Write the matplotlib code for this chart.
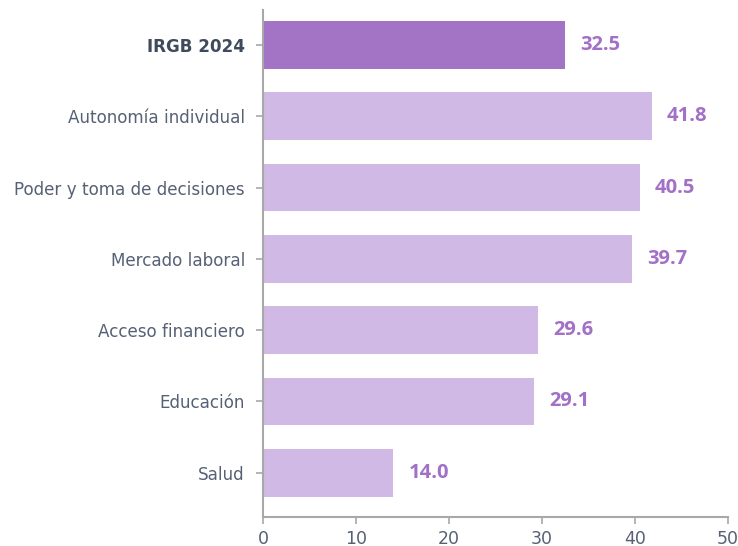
import numpy as np
import matplotlib.pyplot as plt

# datos del gráfico
categorias = ['IRGB 2024', 'Autonomía individual', 'Poder y toma de decisiones',
              'Mercado laboral', 'Acceso financiero', 'Educación', 'Salud']
valores = [32.5, 41.8, 40.5, 39.7, 29.6, 29.1, 14.0]
xticks = [0, 10, 20, 30, 40, 50]

color_total = '#a374c6'
color_resto = '#d0b9e4'
color_texto = '#566175'
color_valor = '#a270c6'
color_eje = '#a8a8a8'

plt.rcParams['font.family'] = ['DejaVu Sans']

fig = plt.figure(figsize=(7.38, 5.46), dpi=100)
ax = fig.add_axes([0.3564, 0.0531, 0.63, 0.9286])

pos = np.arange(len(categorias))[::-1]
colores = [color_total] + [color_resto] * (len(categorias) - 1)
ax.barh(pos, valores, height=0.67, color=colores)

for p, v in zip(pos, valores):
    ax.annotate(f'{v:.1f}', (v, p), xytext=(11, 0), textcoords='offset points',
                va='center', ha='left', fontsize=14.5, fontweight='bold',
                color=color_valor, family=['Open Sans', 'DejaVu Sans'])

ax.set_xlim(0, 50)
ax.set_ylim(-0.62, 6.49)
ax.set_xticks(xticks)
ax.set_yticks(pos)
ax.set_yticklabels(categorias)

ax.tick_params(axis='y', colors=color_eje, labelcolor=color_texto, labelsize=12.1, length=5, width=1.2, pad=8)
ax.tick_params(axis='x', colors=color_eje, labelcolor=color_texto, labelsize=12.5, length=5, width=1.2, pad=4)
for lbl in ax.get_yticklabels():
    if lbl.get_text() == 'IRGB 2024':
        lbl.set_fontweight('bold')
        lbl.set_color('#3f4a5c')

for s in ['top', 'right']:
    ax.spines[s].set_visible(False)
for s in ['left', 'bottom']:
    ax.spines[s].set_color(color_eje)
    ax.spines[s].set_linewidth(1.5)

fig.savefig('out.png', dpi=100)
